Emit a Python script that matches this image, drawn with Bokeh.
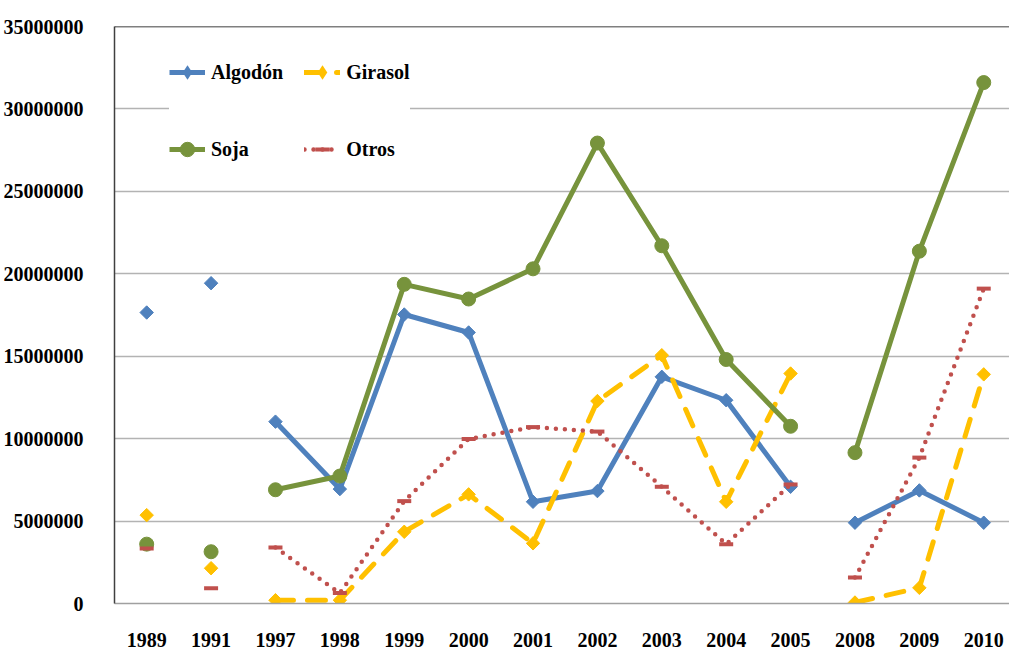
import numpy as np
from bokeh.plotting import figure
from bokeh.models import Range1d, FixedTicker, Legend, LegendItem, Span
from bokeh.embed import file_html
from bokeh.resources import INLINE

years = ["1989", "1991", "1997", "1998", "1999", "2000", "2001", "2002",
         "2003", "2004", "2005", "2008", "2009", "2010"]
algodon = [17650000, 19430000, 11030000, 6940000, 17530000, 16440000, 6170000,
           6820000, 13750000, 12330000, 7080000, 4900000, 6860000, 4900000]
girasol = [5360000, 2140000, 200000, 200000, 4350000, 6620000, 3650000,
           12280000, 15060000, 6170000, 13950000, 60000, 950000, 13900000]
soja = [3600000, 3140000, 6900000, 7730000, 19360000, 18470000, 20300000,
        27930000, 21700000, 14800000, 10750000, 9150000, 21370000, 31600000]
otros = [3330000, 930000, 3390000, 630000, 6210000, 9980000, 10700000,
         10430000, 7080000, 3600000, 7220000, 1570000, 8850000, 19100000]
# connected runs of categories (index slices); 1989 and 1991 stand alone
segments = [(2, 11), (11, 14)]
y_ticks = [0, 5000000, 10000000, 15000000, 20000000, 25000000, 30000000, 35000000]

FONT = "Liberation Serif, Times New Roman, serif"
xs = list(range(len(years)))

p = figure(width=1009, height=649, output_backend="svg", toolbar_location=None,
           x_range=Range1d(-0.5, 13.4), y_range=Range1d(0, 35000000),
           min_border_left=113, min_border_right=0, min_border_top=26,
           min_border_bottom=46)
p.outline_line_color = None
p.background_fill_color = "white"
p.border_fill_color = "white"

# axes
p.xaxis.ticker = FixedTicker(ticks=xs)
p.xaxis.major_label_overrides = {i: y for i, y in enumerate(years)}
p.xaxis.axis_line_color = "#a0a0a0"
p.xaxis.axis_line_width = 1.5
p.xaxis.major_tick_line_color = None
p.xaxis.minor_tick_line_color = None
p.xaxis.major_label_standoff = 23

p.yaxis.ticker = FixedTicker(ticks=y_ticks)
p.yaxis.major_label_overrides = {v: str(v) for v in y_ticks}
p.yaxis.axis_line_color = "#404040"
p.yaxis.axis_line_width = 1.5
p.yaxis.major_tick_line_color = None
p.yaxis.minor_tick_line_color = None
p.yaxis.major_label_standoff = 25

for ax in (p.xaxis, p.yaxis):
    ax.major_label_text_font = FONT
    ax.major_label_text_font_style = "bold"
    ax.major_label_text_font_size = "20px"
    ax.major_label_text_color = "black"

p.xgrid.grid_line_color = None
p.ygrid.grid_line_color = "#b3b3b3"
p.ygrid.grid_line_width = 1.3

p.add_layout(Span(location=35000000, dimension="width", line_color="black",
                  line_width=1.5))

series = [
    ("Algodón", algodon, "#4F81BD", None, "square", 9.5, np.pi / 4, "diamond"),
    ("Girasol", girasol, "#FFC000", "18 14", "square", 9.5, np.pi / 4, "diamond"),
    ("Soja", soja, "#77933C", None, "circle", 14, 0, None),
    ("Otros", otros, "#C0504D", "0 9", "dash", 14, 0, None),
]

items = []
for name, vals, color, dash, marker, size, angle, leg_marker in series:
    rends = []
    for a, b in segments:
        kw = dict(line_color=color, line_width=5 if dash != "0 9" else 4.5,
                  line_join="round")
        if dash:
            kw["line_dash"] = dash
            kw["line_cap"] = "round"
        r = p.line(xs[a:b], vals[a:b], **kw)
        rends.append(r)
    key = None
    if leg_marker:
        # upright diamond, fully hidden under the rotated-square marker;
        # it gives the legend an upright diamond key
        key = p.scatter(xs, vals, marker=leg_marker, size=12.5,
                        fill_color=color, line_color=None)
    if marker == "dash":
        s = p.scatter(xs, vals, marker="dash", size=size, angle=angle,
                      line_color=color, line_width=4)
    else:
        s = p.scatter(xs, vals, marker=marker, size=size, angle=angle,
                      fill_color=color, line_color=color, line_width=1)
    items.append(LegendItem(label=name, renderers=[rends[0], key or s]))

legend = Legend(items=items, location=(55, 426), orientation="horizontal",
                ncols=2, spacing=21, padding=16, margin=0, glyph_width=36,
                glyph_height=56, label_height=40, label_standoff=6,
                label_text_font=FONT, label_text_font_style="bold",
                label_text_font_size="20px", label_text_color="black",
                label_text_baseline="alphabetic",
                background_fill_color="white", background_fill_alpha=1.0,
                border_line_color=None)
p.add_layout(legend)

open("out.html", "w").write(file_html(p, INLINE))
